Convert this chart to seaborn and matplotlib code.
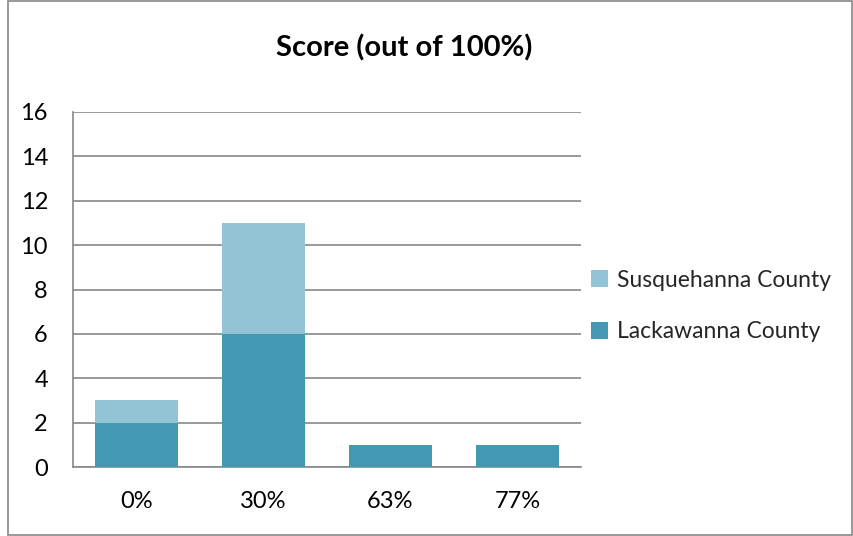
import matplotlib
matplotlib.use("Agg")
import matplotlib.pyplot as plt
import seaborn as sns
import pandas as pd
from matplotlib.patches import Rectangle, Patch

categories = ["0%", "30%", "63%", "77%"]
lackawanna = [2, 6, 1, 1]
susquehanna = [1, 5, 0, 0]
series_names = ["Susquehanna County", "Lackawanna County"]
yticks = [0, 2, 4, 6, 8, 10, 12, 14, 16]

dark = "#4399B1"
light = "#93C4D5"

sns.set_theme(style="white")
plt.rcParams["font.family"] = ["Lato", "DejaVu Sans"]

totals = [a + b for a, b in zip(lackawanna, susquehanna)]
df = pd.DataFrame({"cat": categories, "lack": lackawanna, "total": totals})

fig = plt.figure(figsize=(8.54, 5.36), dpi=100)
ax = fig.add_axes([73/854, 1-467/536, 508/854, 355/536])

sns.barplot(data=df, x="cat", y="total", color=light, width=0.646, ax=ax, saturation=1,
            zorder=3, linewidth=0, edgecolor="none")
sns.barplot(data=df, x="cat", y="lack", color=dark, width=0.646, ax=ax, saturation=1,
            zorder=3, linewidth=0, edgecolor="none")

ax.set_ylim(0, 16)
ax.set_xlim(-0.5, 3.5)
ax.set_yticks(yticks)
ax.set_yticklabels([str(v) for v in yticks])
ax.grid(axis="y", color="#888888", linewidth=1.2, zorder=0)
ax.set_axisbelow(True)
for s in ["top", "right"]:
    ax.spines[s].set_visible(False)
for s in ["left", "bottom"]:
    ax.spines[s].set_color("#888888")
    ax.spines[s].set_linewidth(1.2)
ax.tick_params(axis="y", length=0, pad=18, labelsize=17, labelcolor="#000000")
ax.tick_params(axis="x", length=0, pad=17, labelsize=17, labelcolor="#000000")
ax.set_xlabel("")
ax.set_ylabel("")

fig.text(404/854, 1-48/536, "Score (out of 100%)", ha="center", va="center",
         fontsize=21, fontweight="bold", color="#000000")

handles = [Patch(facecolor=light, edgecolor="none"), Patch(facecolor=dark, edgecolor="none")]
fig.legend(handles, series_names, loc="center left", bbox_to_anchor=(570/854, 1-306/536),
           frameon=False, fontsize=16.5, handlelength=0.75, handleheight=0.75,
           handletextpad=0.4, labelspacing=1.35)

fig.patches.append(Rectangle((8/854, 0.002), 1-8/854-0.002, 0.996, transform=fig.transFigure,
                             fill=False, edgecolor="#888888", linewidth=1.2))

fig.savefig("out.png", dpi=100)
